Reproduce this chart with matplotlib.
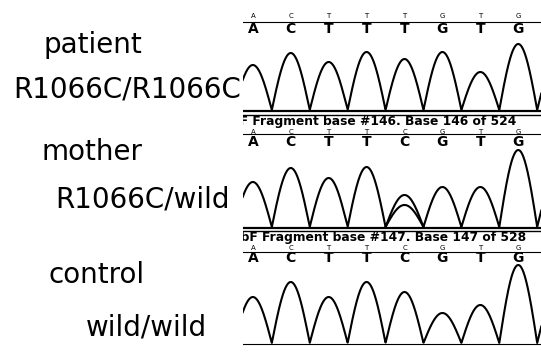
import numpy as np
import matplotlib.pyplot as plt

# Sequencing chromatograms around R1066C

W, H = 541, 354

samples = ["patient", "mother", "control"]
genotypes = ["R1066C/R1066C", "R1066C/wild", "wild/wild"]
headers = [None,
           "bF Fragment base #146. Base 146 of 524",
           "'bF Fragment base #147. Base 147 of 528"]

calls_patient = ["A", "C", "T", "T", "T", "G", "T", "G"]
calls_mother = ["A", "C", "T", "T", "C", "G", "T", "G"]
calls_control = ["A", "C", "T", "T", "C", "G", "T", "G"]

# peak heights, last value = next peak cut off at the right edge
peaks_patient = [45, 57, 48, 58, 51, 58, 38, 66, 50]
peaks_mother = [45, 59, 49, 60, 32, 40, 40, 77, 50]
peaks_control = [46, 61, 46, 61, 51, 30, 38, 78, 50]
# second (T) peak under the C in the mother
het_pos = 4
het_height = 22

calls = [calls_patient, calls_mother, calls_control]
peaks = [peaks_patient, peaks_mother, peaks_control]


def trace(x, heights):
    y = np.zeros_like(x)
    for i, h in enumerate(heights):
        d = x - i
        m = np.abs(d) < 0.5
        y[m] += h * np.cos(np.pi * d[m])
    return y


fig = plt.figure(figsize=(W / 100, H / 100), dpi=100)

# panel layout in pixels: top, baseline, bottom
panels = [(0, 110, 118), (110, 227, 235), (228, 343, 354)]
small_y = [94.5, 95, 94.5]
line_y = [88, 93, 91.5]
big_y = [81, 85, 84.5]
base_lines = [[(-1.5, 1.6), (-5, 1.0)], [(-1, 1.6), (-4, 1.0)], [(-1, 0.8)]]
header_x = [None, -0.58, -0.42]
header_base = [None, 125, 241.5]

x = np.linspace(-0.3, 7.7, 1200)

for p in range(3):
    top, base, bot = panels[p]
    ax = fig.add_axes([243 / W, 1 - bot / H, (W - 243) / W, (bot - top) / H])
    ax.set_xlim(-0.26, 7.6)
    ax.set_ylim(base - bot, base - top)
    ax.axis("off")

    ax.plot(x, trace(x, peaks[p]), color="black", lw=1.5)
    if p == 1:
        xs = np.linspace(het_pos - 0.5, het_pos + 0.5, 100)
        ax.plot(xs, het_height * np.cos(np.pi * (xs - het_pos)), color="black", lw=1.5)

    for yy, lw in base_lines[p]:
        ax.axhline(yy, color="black", lw=lw)
    ax.axhline(line_y[p], color="black", lw=0.8)

    for i, c in enumerate(calls[p]):
        ax.text(i, small_y[p], c, fontsize=5, ha="center", va="center")
        ax.text(i, big_y[p], c, fontsize=10, fontweight="bold", ha="center", va="center")

    if headers[p]:
        ax.text(header_x[p], base - header_base[p], headers[p],
                fontsize=8.8, fontweight="bold", ha="left", va="baseline", clip_on=True)

# labels on the left
label_pos = [(43, 53), (42, 160), (48, 283)]
geno_pos = [(13, 97), (55, 207), (86, 335)]
for s, g, (sx, sy), (gx, gy) in zip(samples, genotypes, label_pos, geno_pos):
    fig.text(sx / W, 1 - sy / H, s, fontsize=20, ha="left", va="baseline")
    fig.text(gx / W, 1 - gy / H, g, fontsize=20, ha="left", va="baseline")

plt.savefig("out.png", dpi=100)
